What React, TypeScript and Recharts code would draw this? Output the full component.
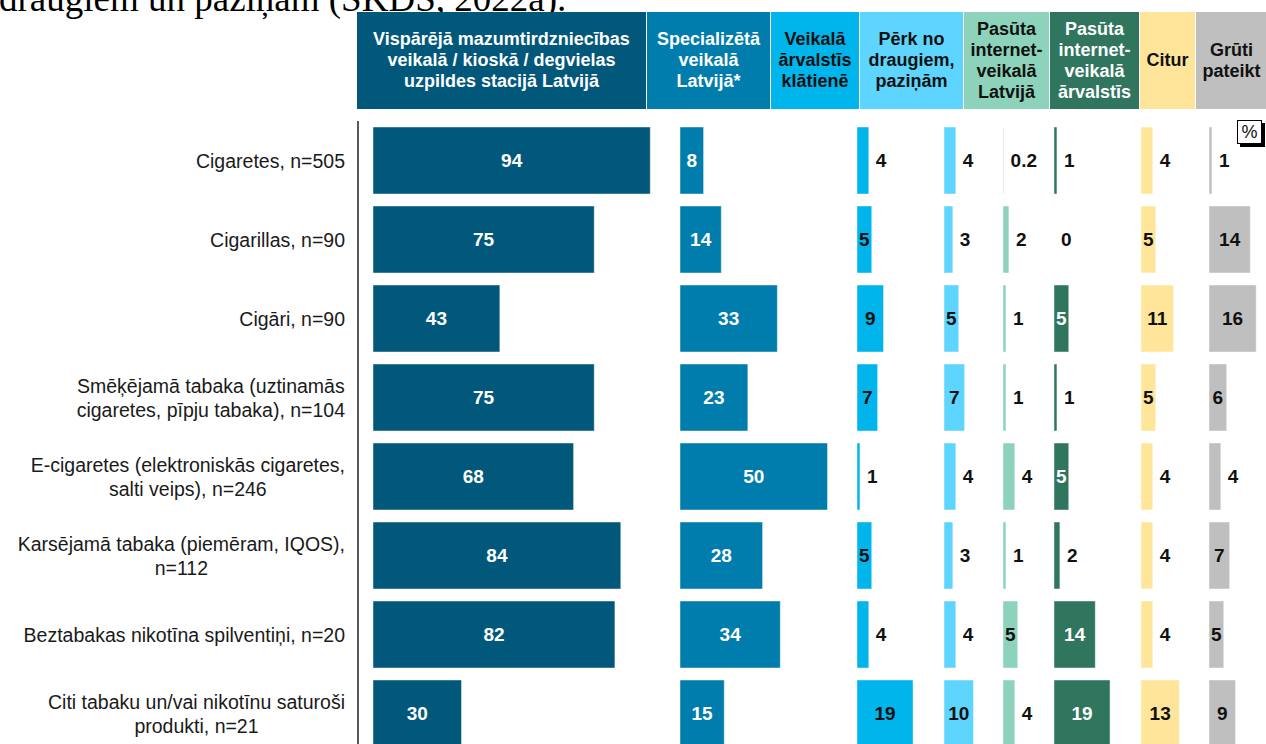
import React from 'react';
import { BarChart, Bar, XAxis, YAxis, LabelList } from 'recharts';

// categories (rows)
const categories = [
  'Cigaretes, n=505',
  'Cigarillas, n=90',
  'Cigāri, n=90',
  'Smēķējamā tabaka (uztinamās\ncigaretes, pīpju tabaka), n=104',
  'E-cigaretes (elektroniskās cigaretes,\nsalti veips), n=246',
  'Karsējamā tabaka (piemēram, IQOS),\nn=112',
  'Beztabakas nikotīna spilventiņi, n=20',
  'Citi tabaku un/vai nikotīnu saturoši\nprodukti, n=21',
];

// column headers
const columnTitles = [
  'Vispārējā mazumtirdzniecības\nveikalā / kioskā / degvielas\nuzpildes stacijā Latvijā',
  'Specializētā\nveikalā\nLatvijā*',
  'Veikalā\nārvalstīs\nklātienē',
  'Pērk no\ndraugiem,\npaziņām',
  'Pasūta\ninternet-\nveikalā\nLatvijā',
  'Pasūta\ninternet-\nveikalā\nārvalstīs',
  'Citur',
  'Grūti\npateikt',
];

// values, % (one list per column)
const general = [94, 75, 43, 75, 68, 84, 82, 30];
const specialized = [8, 14, 33, 23, 50, 28, 34, 15];
const storeAbroad = [4, 5, 9, 7, 1, 5, 4, 19];
const fromFriends = [4, 3, 5, 7, 4, 3, 4, 10];
const onlineLatvia = [0.2, 2, 1, 1, 4, 1, 5, 4];
const onlineAbroad = [1, 0, 5, 1, 5, 2, 14, 19];
const elsewhere = [4, 5, 11, 5, 4, 4, 4, 13];
const hardToSay = [1, 14, 16, 6, 4, 7, 5, 9];

const series = [general, specialized, storeAbroad, fromFriends, onlineLatvia, onlineAbroad, elsewhere, hardToSay];

const colors = ['#02587a', '#007dac', '#00b4ec', '#5dd5ff', '#8dd3bb', '#30755e', '#ffe599', '#bfbfbf'];
const lightText = ['#ffffff', '#ffffff', '#111111', '#111111', '#111111', '#ffffff', '#111111', '#111111'];

const data = categories.map((cat, i) => {
  const row: Record<string, string | number> = { cat };
  series.forEach((s, k) => {
    row[`v${k}`] = s[i];
  });
  return row;
});

// layout
const FONT = '"Liberation Sans", Arial, sans-serif';
const PANEL_X = [373, 680, 857, 944, 1003, 1054, 1141, 1209];
const HEADER_X = [357, 647, 771, 860, 964, 1050, 1140, 1196, 1268];
const AXIS_X = 358;
const PANEL_W = 295; // 100 % -> 295 px
const PLOT_TOP = 121;
const ROW_H = 79;
const CHART_H = PLOT_TOP + ROW_H * categories.length + 4;
const INSIDE_MIN = 5;

const CategoryTick = (props: any) => {
  const { x, y, payload } = props;
  return (
    <foreignObject x={0} y={y - 36} width={x} height={72}>
      <div
        style={{
          width: '100%',
          height: '100%',
          display: 'flex',
          justifyContent: 'flex-end',
          alignItems: 'center',
        }}
      >
        <div
          style={{
            textAlign: 'center',
            whiteSpace: 'pre-line',
            fontFamily: FONT,
            fontSize: 19.5,
            lineHeight: '24px',
            color: '#1a1a1a',
          }}
        >
          {payload.value}
        </div>
      </div>
    </foreignObject>
  );
};

const ValueLabel = (props: any) => {
  const { value, insideColor } = props;
  const vb = props.viewBox || {};
  const x = Number.isFinite(props.x) ? props.x : vb.x;
  const y = Number.isFinite(props.y) ? props.y : vb.y;
  const width = Number.isFinite(props.width) ? props.width : vb.width || 0;
  const height = Number.isFinite(props.height) ? props.height : vb.height || 0;
  const inside = Number(value) >= INSIDE_MIN;
  return (
    <text
      x={inside ? x + width / 2 : x + width + 7}
      y={y + height / 2}
      textAnchor={inside ? 'middle' : 'start'}
      dominantBaseline="central"
      fill={inside ? insideColor : '#111111'}
      style={{ fontFamily: FONT, fontSize: 19, fontWeight: 700 }}
    >
      {String(value)}
    </text>
  );
};

const Panel = ({ k }: { k: number }) => {
  const first = k === 0;
  const yw = first ? AXIS_X : 0;
  const pad = first ? PANEL_X[0] - AXIS_X : 0;
  const width = yw + pad + PANEL_W;
  return (
    <div style={{ position: 'absolute', left: first ? 0 : PANEL_X[k], top: 0 }}>
      <BarChart
        width={width}
        height={CHART_H}
        data={data}
        layout="vertical"
        barCategoryGap={6}
        margin={{ top: PLOT_TOP, right: 0, bottom: CHART_H - PLOT_TOP - ROW_H * categories.length, left: 0 }}
      >
        <XAxis type="number" domain={[0, 100]} hide padding={{ left: pad, right: 0 }} />
        <YAxis
          type="category"
          dataKey="cat"
          width={yw}
          hide={!first}
          axisLine={{ stroke: '#000', strokeWidth: 1.3 }}
          tickLine={false}
          tickSize={0}
          tickMargin={13}
          interval={0}
          tick={(p: any) => <CategoryTick {...p} />}
        />
        <Bar
          dataKey={`v${k}`}
          fill={colors[k]}
          stroke="#ffffff"
          strokeOpacity={0.45}
          minPointSize={(v: any) => (Number(v) === 0 ? 0.01 : 0)}
          isAnimationActive={false}
        >
          <LabelList
            dataKey={`v${k}`}
            content={(p: any) => <ValueLabel {...p} insideColor={lightText[k]} />}
          />
        </Bar>
      </BarChart>
    </div>
  );
};

export default function App() {
  return (
    <div
      style={{
        position: 'absolute',
        left: 0,
        top: 0,
        width: 1266,
        height: 744,
        overflow: 'hidden',
        background: '#fff',
      }}
    >
      <svg width={700} height={30} style={{ position: 'absolute', left: 0, top: 0 }}>
        <text x={-1} y={11} style={{ fontFamily: '"Liberation Serif", "Times New Roman", serif', fontSize: 37 }} fill="#000">
          draugiem un paziņām (SKDS, 2022a).
        </text>
      </svg>

      {columnTitles.map((t, k) => (
        <div
          key={k}
          style={{
            position: 'absolute',
            left: HEADER_X[k],
            top: 12,
            width: HEADER_X[k + 1] - HEADER_X[k] - 1,
            height: 97,
            background: colors[k],
            color: lightText[k],
            display: 'flex',
            alignItems: 'center',
            justifyContent: 'center',
            textAlign: 'center',
            whiteSpace: 'pre-line',
            fontFamily: FONT,
            fontWeight: 700,
            fontSize: 18,
            lineHeight: '21px',
          }}
        >
          {t}
        </div>
      ))}

      {series.map((_, k) => (
        <Panel key={k} k={k} />
      ))}

      <div
        style={{
          position: 'absolute',
          left: 1237,
          top: 120,
          width: 23,
          height: 22,
          border: '1px solid #000',
          background: '#fff',
          boxShadow: '3px 3px 0 #000',
          fontFamily: FONT,
          fontSize: 18,
          lineHeight: '22px',
          textAlign: 'center',
          color: '#111',
        }}
      >
        %
      </div>
    </div>
  );
}
